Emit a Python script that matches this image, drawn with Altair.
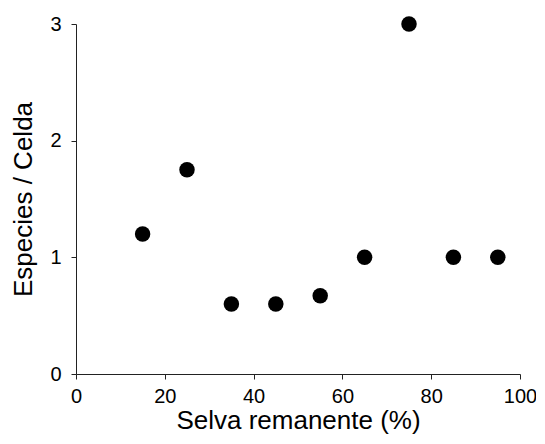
import altair as alt
import pandas as pd

selva = [15, 25, 35, 45, 55, 65, 75, 85, 95]
especies = [1.2, 1.75, 0.6, 0.6, 0.67, 1.0, 3.0, 1.0, 1.0]
x_ticks = [0, 20, 40, 60, 80, 100]
y_ticks = [0, 1, 2, 3]

df = pd.DataFrame({"selva": selva, "especies": especies})

FONT = "Liberation Sans"

common = dict(grid=False, domain=True, ticks=True, tickSize=5, tickWidth=1,
              domainWidth=1, labelFontSize=20, titleFontSize=26,
              titleFontWeight="normal", labelFont=FONT, titleFont=FONT,
              domainColor="#222", tickColor="#222", labelColor="black",
              titleColor="black", labelFlush=False)

chart = alt.Chart(df).mark_circle(size=240, color="black", opacity=1).encode(
    x=alt.X("selva:Q", title="Selva remanente (%)",
            scale=alt.Scale(domain=[0, 100], nice=False),
            axis=alt.Axis(values=x_ticks, labelPadding=7, titlePadding=1, **common)),
    y=alt.Y("especies:Q", title="Especies / Celda",
            scale=alt.Scale(domain=[0, 3], nice=False),
            axis=alt.Axis(values=y_ticks, labelPadding=10, titlePadding=13, **common)),
).properties(
    width=444, height=350,
    autosize=alt.AutoSizeParams(type="none"),
    padding={"left": 68, "top": 16, "right": 16, "bottom": 60},
).configure(background="white").configure_view(stroke=None)

chart.save("out.html", embed_options={"renderer": "svg", "actions": False})
